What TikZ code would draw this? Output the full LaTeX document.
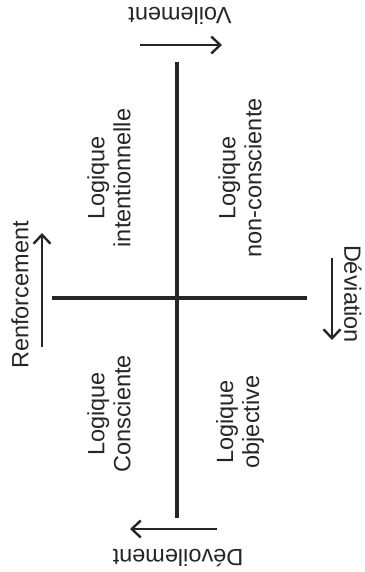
\documentclass[tikz,border=0pt]{standalone}
\usepackage{fontspec}
\setmainfont{Liberation Sans}
\usetikzlibrary{arrows.meta}
\tikzset{
  axis/.style={
    draw=black!85,
    line width=3.5pt
  },
  sense/.style={
    draw=black!85,
    line width=2.8pt,
    -{Straight Barb[length=9pt,width=17pt,line width=2.4pt]}
  },
  pole/.style={
    #1,
    text=black!85,
    inner sep=0pt,
    font=\fontsize{23.5}{26}\selectfont
  },
  quadrant/.style={
    rotate=90,
    align=center,
    text=black!85,
    inner sep=0pt,
    font=\fontsize{23.5}{26}\selectfont
  }
}

\begin{document}
\begin{tikzpicture}[x=1pt,y=-1pt]
\useasboundingbox (0,0) rectangle (364,572);
% axes
\coordinate (top) at (177,62);
\coordinate (bottom) at (177,518);
\coordinate (left) at (52,298);
\coordinate (right) at (307,298);
\draw[axis] (top) -- (bottom);
\draw[axis] (left) -- (right);
% poles
\node[pole={rotate=180}] (voil) at (180,16) {Voilement};
\node[pole={rotate=180}] (devoil) at (178,558) {Dévoilement};
\node[pole={rotate=90}] (renf) at (20,295) {Renforcement};
\node[pole={rotate=-90}] (devia) at (353,294) {Déviation};
\foreach \from/\fx/\fy/\to/\tx/\ty in {%
  voilA/140/45/voilB/222/45,
  devoilA/217/529/devoilB/130/529,
  renfA/42/347/renfB/42/233,
  deviaA/332/258/deviaB/332/340%
} {
  \coordinate (\from) at (\fx,\fy);
  \coordinate (\to) at (\tx,\ty);
  \draw[sense] (\from) -- (\to);
}
% quadrants
\foreach \name/\qx/\qy/\txt in {%
  inten/109/178/{Logique\\intentionnelle},
  noncon/240/178/{Logique\\non-consciente},
  consc/109/414/{Logique\\Consciente},
  objec/240/422/{Logique\\objective}%
} {
  \node[quadrant] (\name) at (\qx,\qy) {\txt};
}
\end{tikzpicture}
\end{document}
